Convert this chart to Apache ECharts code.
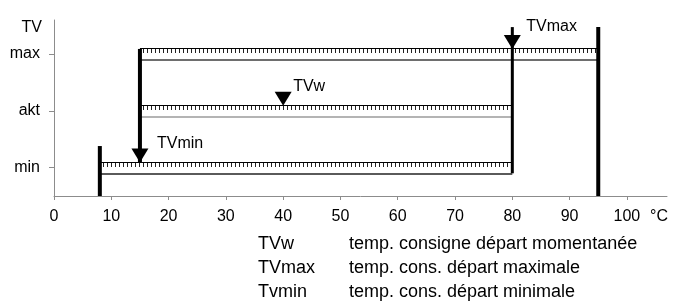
<!DOCTYPE html>
<html>
<head>
    <meta charset="utf-8">
    <title>TV</title>
    <script src="https://cdn.jsdelivr.net/npm/echarts@6/dist/echarts.min.js"></script>
    <style type="text/css">
        html, body {
            margin: 0;
            padding: 0;
            background: #fff;
        }

        #chart {
            width: 692px;
            height: 303px;
        }
    </style>
</head>
<body>
<div id="chart"></div>
<script>
    // x axis (°C)
    var xTicks = [0, 10, 20, 30, 40, 50, 60, 70, 80, 90, 100];
    // y axis levels
    var levelValues = [1, 3, 5];
    var levelNames = ['min', 'akt', 'max'];
    // bands: start, end, level
    var bandStart = [8, 15, 15];
    var bandEnd = [80, 80, 95];
    var bandLevel = [1, 3, 5];
    // thick limit bars: x, from, to
    var limitX = [8, 95];
    var limitFrom = [0, 0];
    var limitTo = [1.76, 5.95];
    // markers (arrows / triangle)
    var markerNames = ['TVmin', 'TVw', 'TVmax'];
    var markerX = [15, 40, 80];
    var markerTip = [1.18, 3.18, 5.18];
    var markerShaftTop = [5.18, null, 5.95];
    var markerShaftBottom = [1.18, null, 0.8];
    // legend below the chart
    var legendKeys = ['TVw', 'TVmax', 'Tvmin'];
    var legendTexts = ['temp. consigne départ momentanée', 'temp. cons. départ maximale', 'temp. cons. départ minimale'];

    var FONT = '"Liberation Sans", Arial, sans-serif';
    var bandLineColors = ['#5a5a5a', '#b4b4b4', '#6e6e6e'];
    var shaftWidths = [4, 0, 3];
    var labelDx = [17, 10, 14];
    var labelDy = [-19, -19, -22];

    var bandData = bandStart.map(function (s, i) {
        return [s, bandEnd[i], bandLevel[i]];
    });
    var limitData = limitX.map(function (x, i) {
        return [x, limitFrom[i], limitTo[i]];
    });
    var markerData = markerX.map(function (x, i) {
        return [x, markerTip[i],
            markerShaftTop[i] == null ? '-' : markerShaftTop[i],
            markerShaftBottom[i] == null ? '-' : markerShaftBottom[i]];
    });

    function renderBand(params, api) {
        var a = api.coord([api.value(0), api.value(2)]);
        var b = api.coord([api.value(1), api.value(2)]);
        var y = Math.round(a[1]);
        var x0 = Math.round(a[0]);
        return {
            type: 'group',
            children: [
                {
                    type: 'line',
                    shape: {x1: a[0], y1: y - 5.5, x2: b[0], y2: y - 5.5},
                    style: {stroke: '#000', lineWidth: 1}
                },
                {
                    type: 'line',
                    shape: {x1: x0 + 3, y1: y - 3, x2: b[0] - 1, y2: y - 3},
                    style: {stroke: '#222', lineWidth: 4, lineDash: [1, 3]}
                },
                {
                    type: 'line',
                    shape: {x1: a[0], y1: y + 6, x2: b[0], y2: y + 6},
                    style: {stroke: bandLineColors[params.dataIndex], lineWidth: 2}
                }
            ]
        };
    }

    function renderLimit(params, api) {
        var a = api.coord([api.value(0), api.value(1)]);
        var b = api.coord([api.value(0), api.value(2)]);
        return {
            type: 'line',
            shape: {x1: a[0], y1: a[1], x2: b[0], y2: b[1]},
            style: {stroke: '#000', lineWidth: 4}
        };
    }

    function renderMarker(params, api) {
        var i = params.dataIndex;
        var tip = api.coord([api.value(0), api.value(1)]);
        var children = [];
        var top = api.value(2), bottom = api.value(3);
        if (!isNaN(top)) {
            var p0 = api.coord([api.value(0), top]);
            var p1 = api.coord([api.value(0), bottom]);
            children.push({
                type: 'line',
                shape: {x1: p0[0], y1: p0[1], x2: p1[0], y2: p1[1]},
                style: {stroke: '#000', lineWidth: shaftWidths[i]}
            });
        }
        children.push({
            type: 'polygon',
            shape: {points: [[tip[0] - 8.5, tip[1] - 14], [tip[0] + 8.5, tip[1] - 14], [tip[0], tip[1]]]},
            style: {fill: '#000'}
        });
        children.push({
            type: 'text',
            style: {
                x: tip[0] + labelDx[i],
                y: tip[1] + labelDy[i],
                text: markerNames[i],
                fill: '#000',
                fontSize: 16,
                fontFamily: FONT,
                verticalAlign: 'middle'
            }
        });
        return {type: 'group', children: children};
    }

    var legendGraphics = [];
    legendKeys.forEach(function (k, i) {
        var top = 235 + i * 24;
        legendGraphics.push({
            type: 'text', left: 258, top: top,
            style: {text: k, fill: '#000', fontSize: 18, fontFamily: FONT}
        });
        legendGraphics.push({
            type: 'text', left: 349, top: top,
            style: {text: legendTexts[i], fill: '#000', fontSize: 18, fontFamily: FONT}
        });
    });

    var chart = echarts.init(document.getElementById('chart'));
    chart.setOption({
        backgroundColor: '#fff',
        animation: false,
        grid: {left: 54, right: 25, top: 20, bottom: 107},
        xAxis: {
            type: 'value',
            min: 0,
            max: 107,
            interval: 10,
            name: '°C',
            nameLocation: 'end',
            nameGap: -17,
            nameTextStyle: {color: '#000', fontSize: 16, fontFamily: FONT, verticalAlign: 'top', padding: [13, 0, 0, 0]},
            axisLine: {lineStyle: {color: '#8c8c8c', width: 1}},
            axisTick: {show: true, length: 4, customValues: xTicks, lineStyle: {color: '#8c8c8c'}},
            axisLabel: {customValues: xTicks, color: '#000', fontSize: 16, fontFamily: FONT, margin: 13},
            splitLine: {show: false}
        },
        yAxis: {
            type: 'value',
            min: 0,
            max: 6.2,
            name: 'TV',
            nameLocation: 'end',
            nameGap: -8,
            nameTextStyle: {color: '#000', fontSize: 16, fontFamily: FONT, align: 'right', verticalAlign: 'middle', padding: [0, 12, 0, 0]},
            axisLine: {show: true, lineStyle: {color: '#8c8c8c', width: 1}},
            axisTick: {show: true, length: 5, customValues: levelValues, lineStyle: {color: '#8c8c8c'}},
            axisLabel: {
                customValues: levelValues,
                color: '#000', fontSize: 16, fontFamily: FONT, margin: 14,
                formatter: function (v) {
                    var i = levelValues.indexOf(v);
                    return i >= 0 ? levelNames[i] : '';
                }
            },
            splitLine: {show: false}
        },
        graphic: legendGraphics,
        series: [
            {type: 'custom', renderItem: renderBand, data: bandData, silent: true},
            {type: 'custom', renderItem: renderLimit, data: limitData, silent: true},
            {type: 'custom', renderItem: renderMarker, data: markerData, silent: true}
        ]
    });
</script>
</body>
</html>
